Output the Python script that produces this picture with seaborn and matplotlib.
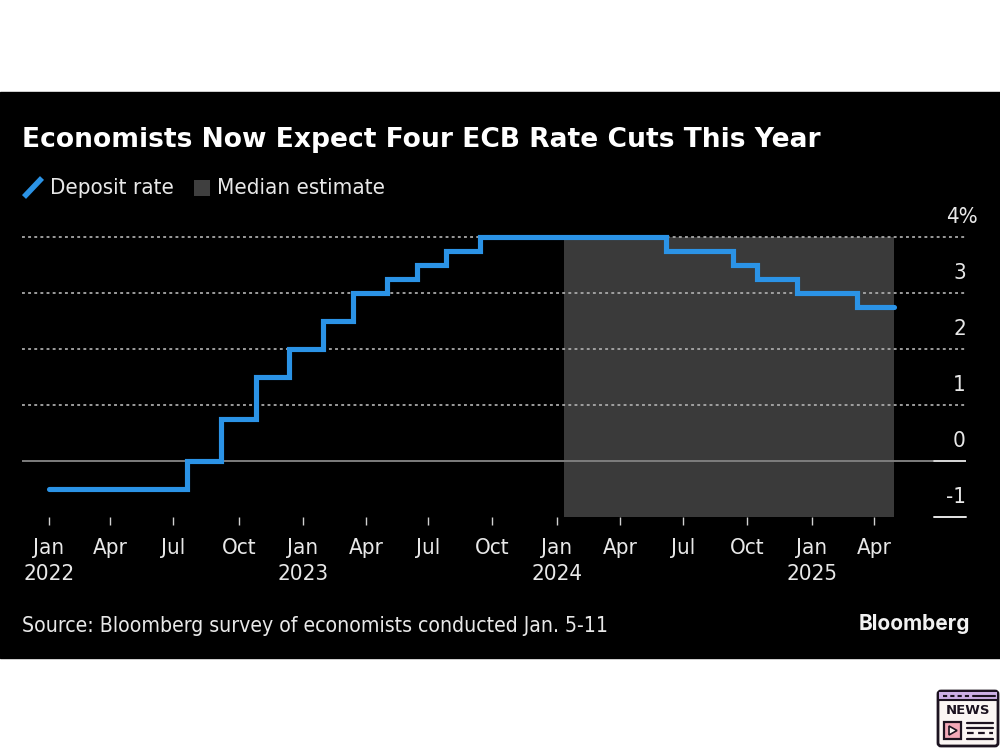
import matplotlib
matplotlib.use("Agg")
import matplotlib.pyplot as plt
from matplotlib.patches import Rectangle, FancyBboxPatch, Polygon
import matplotlib.dates as mdates
import pandas as pd
import seaborn as sns

# deposit rate, values
step_dates = ["2022-01-01", "2022-07-18", "2022-09-05", "2022-10-25", "2022-12-12", "2023-01-30",
              "2023-03-14", "2023-05-02", "2023-06-14", "2023-07-26", "2023-09-13", "2024-06-06",
              "2024-09-10", "2024-10-15", "2024-12-12", "2025-03-08", "2025-04-30"]
rates = [-0.5, 0, 0.75, 1.5, 2, 2.5, 3, 3.25, 3.5, 3.75, 4, 3.75, 3.5, 3.25, 3, 2.75, 2.75]
estimate_span = ["2024-01-11", "2025-04-30"]
tick_dates = ["2022-01-01", "2022-03-30", "2022-06-29", "2022-10-01", "2023-01-01", "2023-04-02", "2023-06-30",
              "2023-09-30", "2024-01-01", "2024-04-01", "2024-07-01", "2024-10-01", "2025-01-02", "2025-04-02"]
tick_labels = ["Jan\n2022", "Apr", "Jul", "Oct", "Jan\n2023", "Apr", "Jul", "Oct",
               "Jan\n2024", "Apr", "Jul", "Oct", "Jan\n2025", "Apr"]
y_ticks = [-1, 0, 1, 2, 3, 4]
y_labels = ["-1", "0", "1", "2", "3", "4%"]

BLUE = "#2b93e6"
TXT = "#e8e8e8"
INK = "#1c1320"
W, H = 1000, 750

sns.set_theme(style="dark")
plt.rcParams["font.family"] = ["DejaVu Sans"]

df = pd.DataFrame({"date": pd.to_datetime(step_dates), "rate": rates})

fig = plt.figure(figsize=(10, 7.5), dpi=100, facecolor="white")
fig.add_artist(Rectangle((0, 1 - 658 / H), 1, 566 / H, transform=fig.transFigure, color="black", zorder=-5))

ax = fig.add_axes([22 / W, 1 - 517 / H, 944 / W, 280 / H])
ax.patch.set_alpha(0)
for s in ax.spines.values():
    s.set_visible(False)

# 254 px per year, Jan 2022 sits at x=49
jan22 = mdates.date2num(pd.Timestamp("2022-01-01"))
px_day = 254 / 365.25
ax.set_xlim(jan22 - 27 / px_day, jan22 + 917 / px_day)
ax.set_ylim(-1, 4)

ax.axvspan(pd.Timestamp(estimate_span[0]), pd.Timestamp(estimate_span[1]), color="#3a3a3a", lw=0, zorder=1)
for y in [1, 2, 3, 4]:
    ax.axhline(y, color="#a8a8a8", lw=1.3, ls=(0, (1.6, 1.8)), zorder=2, clip_on=False)
ax.axhline(0, color="#7d7d7d", lw=1.4, zorder=2)
yt = ax.get_yaxis_transform()
ax.plot([912 / 944, 1], [0, 0], transform=yt, color="#e6e6e6", lw=1.2, zorder=3)
ax.plot([912 / 944, 1], [-1, -1], transform=yt, color="#e6e6e6", lw=1.4, zorder=3, clip_on=False)

sns.lineplot(data=df, x="date", y="rate", drawstyle="steps-post", color=BLUE, lw=3.7, ax=ax, zorder=4,
             legend=False, solid_joinstyle="miter", errorbar=None, clip_on=False)
ax.set_xlabel("")
ax.set_ylabel("")

ax.set_xticks(pd.to_datetime(tick_dates))
ax.set_xticklabels(tick_labels, color=TXT, fontsize=16, linespacing=1.38, stretch="condensed")
ax.tick_params(axis="x", length=6, width=1.0, color="#d0d0d0", pad=9, bottom=True)
ax.set_yticks([])
for y, lab in zip(y_ticks, y_labels):
    ax.annotate(lab, xy=(1, y), xycoords=yt, xytext=(0 if lab != "4%" else 12, 20),
                textcoords="offset pixels", ha="right", va="center", color=TXT, fontsize=16, stretch="condensed")

fig.text(22 / W, 1 - 140 / H, "Economists Now Expect Four ECB Rate Cuts This Year", color="white",
         fontsize=19.1, fontweight="bold", va="center")

# legend row and footer, in pixel coordinates
leg = fig.add_axes([0, 0, 1, 1])
leg.set_xlim(0, W)
leg.set_ylim(H, 0)
leg.axis("off")
leg.patch.set_alpha(0)
leg.plot([24, 42], [197, 178], color=BLUE, lw=4, solid_capstyle="butt")
leg.add_patch(Rectangle((194, 180), 16, 16, color="#3f3f3f", lw=0))
leg.text(50, 188, "Deposit rate", color=TXT, fontsize=16, stretch="condensed", va="center")
leg.text(217, 188, "Median estimate", color=TXT, fontsize=16, stretch="condensed", va="center")
leg.text(22, 626, "Source: Bloomberg survey of economists conducted Jan. 5-11", color=TXT, fontsize=15.2,
         stretch="condensed", va="center")
leg.text(970, 624, "Bloomberg", color="#f2f2f2", fontsize=15, fontweight="bold", family="Inter", ha="right", va="center")

# news icon, bottom right corner
leg.add_patch(FancyBboxPatch((938, 691), 60, 55, boxstyle="round,pad=0,rounding_size=3", fc="#fbf6f4", ec=INK, lw=2))
leg.add_patch(Rectangle((939, 692), 58, 8, color="#cdb0e6", lw=0))
leg.plot([938, 998], [700, 700], color=INK, lw=1.5)
leg.plot([943, 972], [696, 696], color=INK, lw=1.5, ls=(0, (2, 1.5)))
leg.plot([973, 995], [696, 696], color=INK, lw=1.5)
leg.text(968, 711, "NEWS", color=INK, fontsize=9.5, fontweight="bold", ha="center", va="center")
leg.add_patch(Rectangle((944, 722), 17, 17, fc="#f2a9b8", ec=INK, lw=1.6))
leg.add_patch(Polygon([[949, 726], [949, 735], [957, 730.5]], fc="#fbf6f4", ec=INK, lw=1.2))
for yy in [723, 728, 739]:
    leg.plot([967, 993], [yy, yy], color=INK, lw=1.6)
leg.plot([967, 993], [733, 733], color=INK, lw=1.6, ls=(0, (3, 2)))

fig.savefig("out.png", dpi=100)
